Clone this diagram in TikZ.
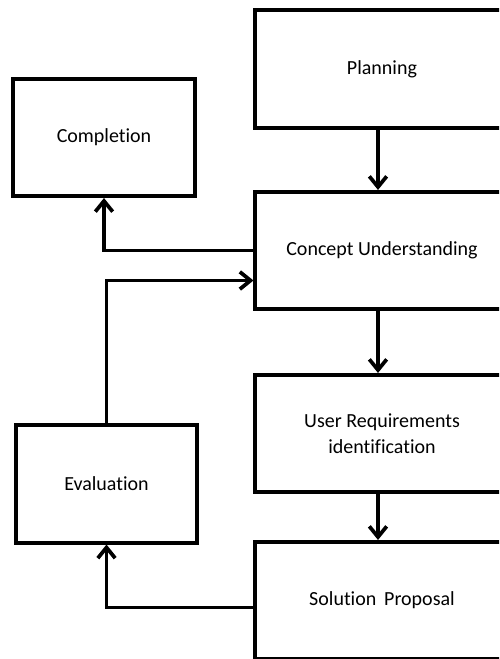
\documentclass[tikz,border=0pt]{standalone}
\usepackage{fontspec}
\setmainfont[Ligatures=NoCommon]{Carlito}
\usepackage{tikz}
\usetikzlibrary{arrows.meta,calc}
\tikzset{
  step box/.style={
    rectangle,
    draw=black,
    line width=2.8pt,
    minimum height=88pt,
    inner sep=3pt,
    align=center,
    font=\fontsize{15}{19.5}\selectfont,
  },
  left box/.style={step box, minimum width=136pt},
  right box/.style={step box, minimum width=190pt},
  flow arrow/.style={-{Straight Barb[length=8pt,width=13pt,line width=2.8pt]}, line width=2.8pt},
  flow line/.style={line width=2.8pt},
}
\begin{document}
\begin{tikzpicture}[x=0.75pt,y=-0.75pt]
  \clip (0,0) rectangle (499,659);
  \useasboundingbox (0,0) rectangle (499,659);

  \node[right box] (plan) at (382,69) {Planning};
  \node[right box] (concept) at (382,250.5) {Concept Understanding};
  \node[right box] (userreq) at (382,433.5) {User Requirements\\identification};
  \node[right box] (solution) at (382,600.5) {Solution\,\ Proposal};

  \node[left box] (compl) at (104,137.5) {Completion};
  \node[left box] (eval) at (106.5,484) {Evaluation};

  \draw[flow arrow] (plan.south -| 378,0) -- (concept.north -| 378,0);
  \draw[flow arrow] (concept.south -| 378,0) -- (userreq.north -| 378,0);
  \draw[flow arrow] (userreq.south -| 378,0) -- (solution.north -| 378,0);

  \draw[flow arrow] (concept.west) -| (compl.south);
  \draw[flow arrow] (eval.north) |- ($(concept.west)+(0,30)$);
  \draw[flow arrow] ($(solution.west)+(0,7)$) -| (eval.south);
\end{tikzpicture}
\end{document}
